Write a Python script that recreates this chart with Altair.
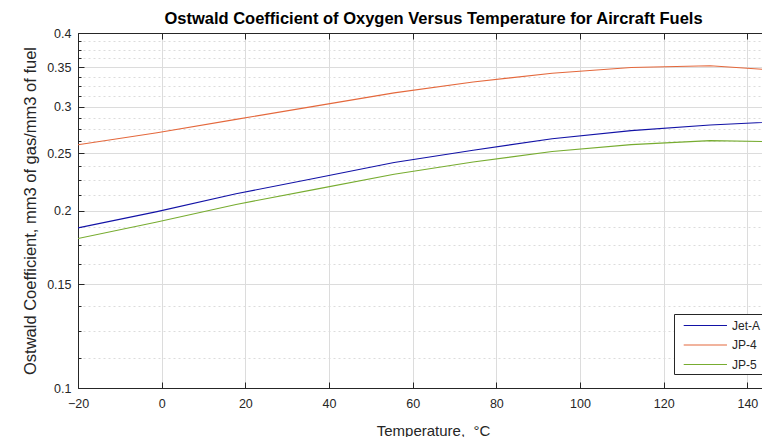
import altair as alt
import pandas as pd

# ---- data ----
temps = [-20, -1.11, 17.78, 36.67, 55.56, 74.44, 93.33, 112.22, 131.11, 150]
jet_a = [0.1869, 0.1991, 0.2135, 0.2268, 0.2412, 0.2531, 0.2646, 0.2732, 0.2792, 0.2835]
jp_4 = [0.2586, 0.2709, 0.2855, 0.3006, 0.3166, 0.3304, 0.3418, 0.3495, 0.3520, 0.3448]
jp_5 = [0.1793, 0.1912, 0.2048, 0.2172, 0.2304, 0.2417, 0.2518, 0.2587, 0.2627, 0.2614]

fuels = ["Jet-A", "JP-4", "JP-5"]
colors = ["#1212A6", "#E4683C", "#77AC30"]

x_ticks = [-20, 0, 20, 40, 60, 80, 100, 120, 140]
y_ticks = [0.1, 0.15, 0.2, 0.25, 0.3, 0.35, 0.4]
y_minor = [0.1125, 0.125, 0.1375, 0.1625, 0.175, 0.1875, 0.2125, 0.225, 0.2375,
           0.2625, 0.275, 0.2875, 0.3125, 0.325, 0.3375, 0.3625, 0.375, 0.3875]

rows = []
for name, vals in zip(fuels, [jet_a, jp_4, jp_5]):
    for t, v in zip(temps, vals):
        rows.append({"T": t, "value": v, "fuel": name})
df = pd.DataFrame(rows)

FONT = "Liberation Sans"
INK = "#262626"
GRID = "#dcdcdc"

xs = alt.Scale(domain=[-20, 143.5], nice=False, zero=False)
ys = alt.Scale(type="log", domain=[0.1, 0.4], nice=False)

base = alt.Chart(df)

lines = base.mark_line(strokeWidth=1.1, clip=True).encode(
    x=alt.X("T:Q", scale=xs, axis=alt.Axis(
        values=x_ticks, orient="bottom", grid=True, gridColor=GRID, gridWidth=1,
        ticks=False, domain=True, domainColor=INK, domainWidth=1,
        labelFont=FONT, labelFontSize=12.5, labelColor=INK, labelPadding=9,
        labelFlush=False,
        title="Temperature, \u00a0\u00b0C", titleFont=FONT, titleFontSize=15,
        titleFontWeight="normal", titleColor=INK, titleX=355, titleY=47,
        titleAlign="center", titleBaseline="alphabetic")),
    y=alt.Y("value:Q", scale=ys, axis=alt.Axis(
        values=y_ticks, orient="left", grid=True, gridColor=GRID, gridWidth=1,
        ticks=False, domain=True, domainColor=INK, domainWidth=1,
        labelFont=FONT, labelFontSize=12.5, labelColor=INK, labelPadding=7,
        labelFlush=False, format="~g",
        title="Ostwald Coefficient, mm3 of gas/mm3 of fuel", titleFont=FONT,
        titleFontSize=16.5, titleFontWeight="normal", titleColor=INK,
        titleX=-43, titleY=177.5, titleAngle=270, titleAlign="center",
        titleBaseline="alphabetic")),
    color=alt.Color("fuel:N", scale=alt.Scale(domain=fuels, range=colors),
                    legend=alt.Legend(
                        title=None, orient="none", legendX=596, legendY=281,
                        symbolType="M-0.24,0H5.53", symbolSize=225,
                        symbolStrokeWidth=1.1, labelOffset=38,
                        labelFont=FONT, labelFontSize=12, labelColor=INK,
                        labelExpr="datum.label + '\u00a0\u00a0\u00a0\u00a0\u00a0\u00a0'",
                        rowPadding=4.5, padding=3, fillColor="white",
                        strokeColor=INK)),
)

major_ticks = base.mark_line(strokeOpacity=0).encode(
    x=alt.X("T:Q", scale=xs, axis=alt.Axis(
        values=x_ticks, orient="bottom", offset=-6, tickSize=6, tickColor=INK,
        domain=False, labels=False, grid=False, title=None)),
    y=alt.Y("value:Q", scale=ys, axis=alt.Axis(
        values=y_ticks, orient="left", offset=-6, tickSize=6, tickColor=INK,
        domain=False, labels=False, grid=False, title=None)),
)

minor_layer = base.mark_line(strokeOpacity=0).encode(
    x=alt.X("T:Q", scale=xs, axis=alt.Axis(
        orient="top", domain=True, domainColor=INK, domainWidth=1,
        ticks=False, labels=False, grid=False, title=None)),
    y=alt.Y("value:Q", scale=ys, axis=alt.Axis(
        values=y_minor, orient="left", offset=-3, tickSize=3, tickColor=INK,
        domain=False, labels=False, grid=True, gridColor=GRID,
        gridDash=[2, 3], title=None)),
)

top_ticks = base.mark_line(strokeOpacity=0).encode(
    x=alt.X("T:Q", scale=xs, axis=alt.Axis(
        values=x_ticks, orient="top", offset=-6, tickSize=6, tickColor=INK,
        domain=False, labels=False, grid=False, title=None)),
    y=alt.Y("value:Q", scale=ys, axis=None),
)

chart = alt.layer(minor_layer, lines, major_ticks, top_ticks).resolve_axis(
    x="independent", y="independent"
).properties(
    width=684,
    height=355,
    autosize=alt.AutoSizeParams(type="none"),
    padding={"left": 70, "top": 25, "right": 0, "bottom": 49},
    title=alt.TitleParams(
        "Ostwald Coefficient of Oxygen Versus Temperature for Aircraft Fuels",
        font=FONT, fontSize=16.5, fontWeight="bold", color="#000000",
        anchor="middle", dx=13.5, offset=0),
).configure_view(stroke=None).configure(background="white")

chart.save("out.html", embed_options={"renderer": "svg", "actions": False})
